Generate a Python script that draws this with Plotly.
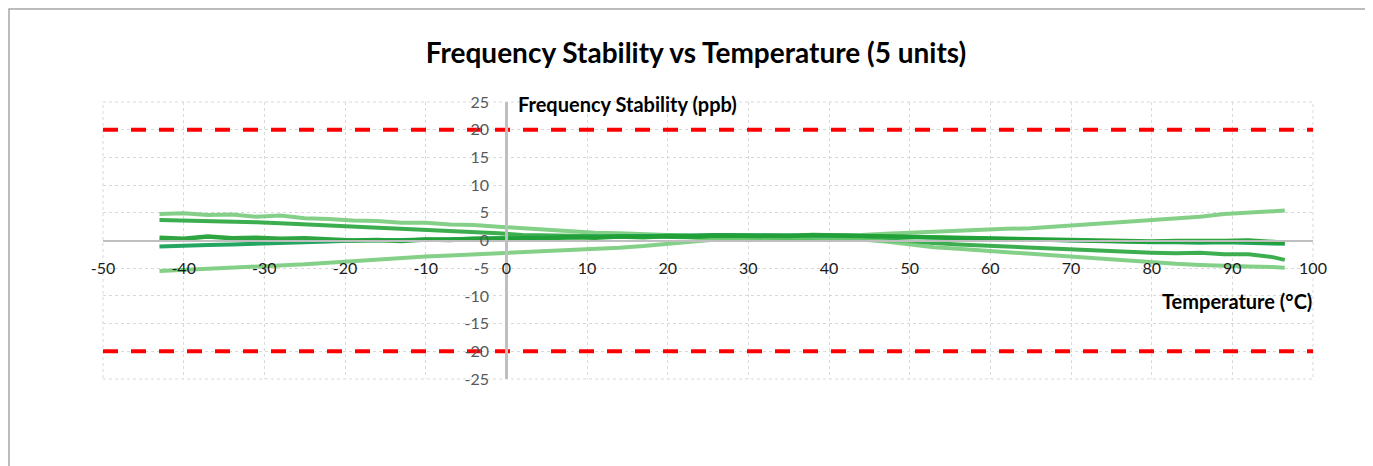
import plotly.graph_objects as go

# ---------------- data ----------------
temperature = [-43, -40, -37, -34, -31, -28, -25, -22, -19, -16, -13, -10, -7, -4, -1,
               2, 5, 8, 11, 14, 17, 20, 23, 26, 29, 32, 35, 38, 41, 44, 47, 50, 53,
               56, 59, 62, 65, 68, 71, 74, 77, 80, 83, 86, 89, 92, 95, 96.5]

unit_a = [4.8, 4.9, 4.6, 4.7, 4.3, 4.5, 4.0, 3.9, 3.6, 3.5, 3.2, 3.2, 2.9, 2.8, 2.5,
          2.2, 1.9, 1.7, 1.4, 1.3, 1.1, 1.0, 0.9, 0.8, 0.8, 0.7, 0.7, 0.8, 0.8, 1.0,
          1.2, 1.4, 1.6, 1.7, 1.9, 2.1, 2.2, 2.5, 2.7, 3.0, 3.4, 3.6, 4.0, 4.3, 4.8,
          5.0, 5.3, 5.4]
unit_b = [3.7, 3.6, 3.5, 3.5, 3.3, 3.1, 2.9, 2.8, 2.6, 2.4, 2.2, 2.0, 1.7, 1.5, 1.3,
          1.0, 0.9, 0.8, 0.8, 0.7, 0.7, 0.6, 0.6, 0.5, 0.5, 0.5, 0.4, 0.4, 0.3, 0.2,
          0.0, -0.2, -0.5, -0.7, -0.9, -1.1, -1.2, -1.5, -1.7, -1.9, -2.0, -2.2, -2.3,
          -2.2, -2.5, -2.5, -3.0, -3.5]
unit_c = [0.5, 0.3, 0.7, 0.4, 0.5, 0.3, 0.4, 0.1, 0.0, 0.1, -0.1, 0.2, 0.1, 0.3, 0.3,
          0.5, 0.4, 0.6, 0.5, 0.7, 0.6, 0.8, 0.7, 0.9, 0.8, 0.9, 0.8, 1.0, 0.9, 0.9,
          0.8, 0.8, 0.7, 0.6, 0.5, 0.4, 0.3, 0.2, 0.1, 0.0, -0.1, -0.2, -0.1, -0.2,
          -0.1, 0.0, -0.2, -0.4]
unit_d = [-1.1, -0.9, -0.8, -0.7, -0.6, -0.4, -0.3, -0.2, 0.0, 0.0, 0.1, 0.2, 0.2, 0.3,
          0.4, 0.4, 0.5, 0.6, 0.6, 0.7, 0.8, 0.8, 0.9, 1.0, 1.0, 1.0, 1.0, 0.9, 0.9,
          0.8, 0.7, 0.6, 0.5, 0.5, 0.4, 0.3, 0.2, 0.1, 0.0, -0.1, -0.2, -0.3, -0.3,
          -0.4, -0.3, -0.4, -0.5, -0.6]
unit_e = [-5.5, -5.3, -5.2, -4.9, -4.8, -4.5, -4.3, -4.0, -3.7, -3.4, -3.1, -2.9, -2.7,
          -2.5, -2.3, -2.1, -1.9, -1.8, -1.6, -1.3, -1.0, -0.6, -0.2, 0.2, 0.4, 0.5,
          0.5, 0.5, 0.4, 0.2, -0.2, -0.7, -1.2, -1.5, -1.8, -2.1, -2.5, -2.8, -3.1,
          -3.4, -3.7, -4.0, -4.2, -4.4, -4.6, -4.7, -4.8, -4.9]

limit_x = [-50, 100]
upper_limit = [20, 20]
lower_limit = [-20, -20]

x_ticks = [-50, -40, -30, -20, -10, 0, 10, 20, 30, 40, 50, 60, 70, 80, 90, 100]
x_tick_text = ["-50", "-40", "-30", "-20", "-10", "0", "10", "20", "30", "40", "50",
               "60", "70", "80", "90", "100"]
y_ticks = [-25, -20, -15, -10, -5, 0, 5, 10, 15, 20, 25]
y_tick_text = ["-25", "-20", "-15", "-10", "-5", "0", "5", "10", "15", "20", "25"]

title_text = "Frequency Stability vs Temperature (5 units)"
y_title = "Frequency Stability (ppb)"
x_title = "Temperature (°C)"

# ---------------- figure ----------------
OFF = 8  # page body margin offset
W, H = 1365, 458
L, T = 103 - OFF, 102 - OFF
pw, ph = 1210, 277
R, B = W - L - pw, H - T - ph

FONT = "Lato"


def px_x(p):
    return (p - OFF - L) / pw


def px_y(p):
    return (T + ph - (p - OFF)) / ph


fig = go.Figure()

series = [
    (unit_a, "rgba(110,200,115,0.85)", 4),
    (unit_b, "rgba(50,170,70,0.95)", 4),
    (unit_e, "rgba(110,200,115,0.85)", 4),
    (unit_d, "rgba(25,160,90,0.95)", 4),
    (unit_c, "rgba(35,160,55,0.95)", 4.5),
]
for i, (vals, col, w) in enumerate(series):
    fig.add_trace(go.Scatter(x=temperature, y=vals, mode="lines",
                             line=dict(color=col, width=w), name=f"Unit {i+1}",
                             showlegend=False, hoverinfo="skip"))

for lim in (upper_limit, lower_limit):
    fig.add_trace(go.Scatter(x=limit_x, y=lim, mode="lines",
                             line=dict(color="#ff0000", width=4, dash="15px,13px"),
                             showlegend=False, hoverinfo="skip", cliponaxis=False))

fig.update_layout(
    width=W, height=H,
    margin=dict(l=L, r=R, t=T, b=B, autoexpand=False),
    paper_bgcolor="white", plot_bgcolor="white",
    showlegend=False,
    title=dict(text=title_text, x=px_x(696), xref="paper", xanchor="center",
               y=1 - (53 - OFF) / H, yanchor="middle",
               font=dict(family=FONT, size=28, color="#000000", weight="bold")),
    xaxis=dict(range=[-50, 100], tickvals=x_ticks, ticktext=x_tick_text,
               anchor="free", position=0.5, showline=True, linecolor="#bfbfbf",
               linewidth=2, zeroline=False, showgrid=True, gridcolor="#d9d9d9",
               griddash="dot", gridwidth=1, ticks="", ticklabelstandoff=13,
               tickfont=dict(family=FONT, size=16, color="#1a1a1a")),
    yaxis=dict(range=[-25, 25], tickvals=y_ticks, ticktext=y_tick_text,
               anchor="free", position=50 / 150, showline=True, linecolor="#bfbfbf",
               linewidth=3, zeroline=False, showgrid=True, gridcolor="#d9d9d9",
               griddash="dot", gridwidth=1, ticks="", ticklabelstandoff=13,
               tickfont=dict(family=FONT, size=16, color="#595959")),
)

# dotted frame of the plot area (edge gridlines)
fig.add_shape(type="rect", xref="paper", yref="paper", x0=0, x1=1, y0=0, y1=1,
              line=dict(color="#d9d9d9", width=1, dash="dot"), layer="below")

# outer chart border (as close to the reference as the page offset allows)
fig.add_shape(type="rect", xref="paper", yref="paper",
              x0=px_x(OFF + 1), x1=px_x(1367), y0=px_y(480), y1=px_y(OFF + 1),
              line=dict(color="#a6a6a6", width=1.5))

fig.add_annotation(text=y_title, xref="paper", yref="paper",
                   x=px_x(516), y=px_y(104), xanchor="left",
                   yanchor="middle", showarrow=False,
                   font=dict(family=FONT, size=20, color="#000000", weight="bold"))
fig.add_annotation(text=x_title, xref="paper", yref="paper",
                   x=px_x(1314), y=px_y(301), xanchor="right",
                   yanchor="middle", showarrow=False,
                   font=dict(family=FONT, size=20, color="#000000", weight="bold"))

fig.write_html("out.html")
